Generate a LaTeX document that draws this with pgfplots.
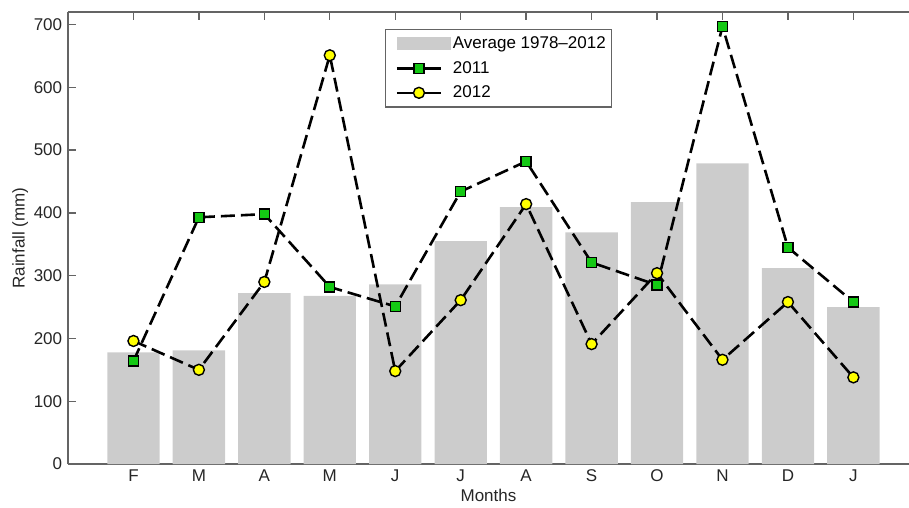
\documentclass[border=0pt]{standalone}
\usepackage{pgfplots}
\pgfplotsset{compat=1.18}
\usepackage{fontspec}
\setmainfont{Liberation Sans}
\definecolor{bargray}{RGB}{204,204,204}
\definecolor{axgray}{RGB}{100,100,100}
\definecolor{mkgreen}{RGB}{20,200,20}
\definecolor{mkyellow}{RGB}{255,255,0}
\pgfplotsset{
  lineleg/.style={legend image code/.code={\path (0pt,0pt); \draw[##1, mark repeat=2, mark phase=2, solid] plot coordinates {(6pt,0pt) (28pt,0pt) (50pt,0pt)};}},
  barleg/.style={legend image code/.code={\path (0pt,0pt); \fill[bargray] (6pt,-6pt) rectangle (60pt,7pt);}},
}
\begin{document}
\fontsize{17}{20}\selectfont
\begin{tikzpicture}
\begin{axis}[
  width=841pt, height=452pt, scale only axis,
  xmin=0, xmax=12.85, ymin=0, ymax=720,
  axis y line*=left,
  axis line style={axgray, line width=1.3pt},
  every tick/.style={axgray, line width=1.3pt},
  tick align=inside, major tick length=8pt,
  xtick={1,...,12},
  xticklabels={F,M,A,M,J,J,A,S,O,N,D,J},
  xtick pos=both,
  ytick={0,100,...,700},
  /pgf/number format/assume math mode=true,
  ticklabel style={font=\fontsize{17}{20}\selectfont, text=black!85},
  label style={font=\fontsize{17}{20}\selectfont, text=black!85},
  xlabel={Months}, ylabel={Rainfall (mm)},
  xlabel style={yshift=4pt},
  ylabel style={yshift=-6pt},
  legend style={at={(0.377,0.962)}, anchor=north west, draw=axgray, line width=1.2pt,
    font=\fontsize{17}{20}\selectfont, row sep=6pt, inner xsep=4pt, inner ysep=5pt,
    /tikz/every even column/.append style={column sep=6pt}},
  legend cell align=left,
]
\addplot[ybar, bar width=0.8, bar shift=0pt, fill=bargray, draw=none, barleg]
  coordinates {(1,178) (2,181) (3,272) (4,268) (5,286) (6,355) (7,409) (8,369) (9,417) (10,479) (11,312) (12,250)};
\addlegendentry{Average 1978--2012}
\addplot[black, line width=2.6pt, dash pattern=on 14pt off 6pt,
  mark=square*, mark size=5pt, mark options={solid, fill=mkgreen, draw=black, line width=1.4pt}, lineleg]
  coordinates {(1,164) (2,393) (3,398) (4,282) (5,251) (6,434) (7,482) (8,321) (9,285) (10,697) (11,345) (12,258)};
\addlegendentry{2011}
\addplot[black, line width=2.6pt, dash pattern=on 14pt off 6pt,
  mark=*, mark size=5.5pt, mark options={solid, fill=mkyellow, draw=black, line width=1.4pt}, lineleg]
  coordinates {(1,196) (2,150) (3,290) (4,651) (5,148) (6,261) (7,414) (8,191) (9,304) (10,166) (11,258) (12,138)};
\addlegendentry{2012}
\end{axis}
\pgfresetboundingbox
\path (-68pt,-43pt) rectangle (841pt,464pt);
\end{tikzpicture}
\end{document}
